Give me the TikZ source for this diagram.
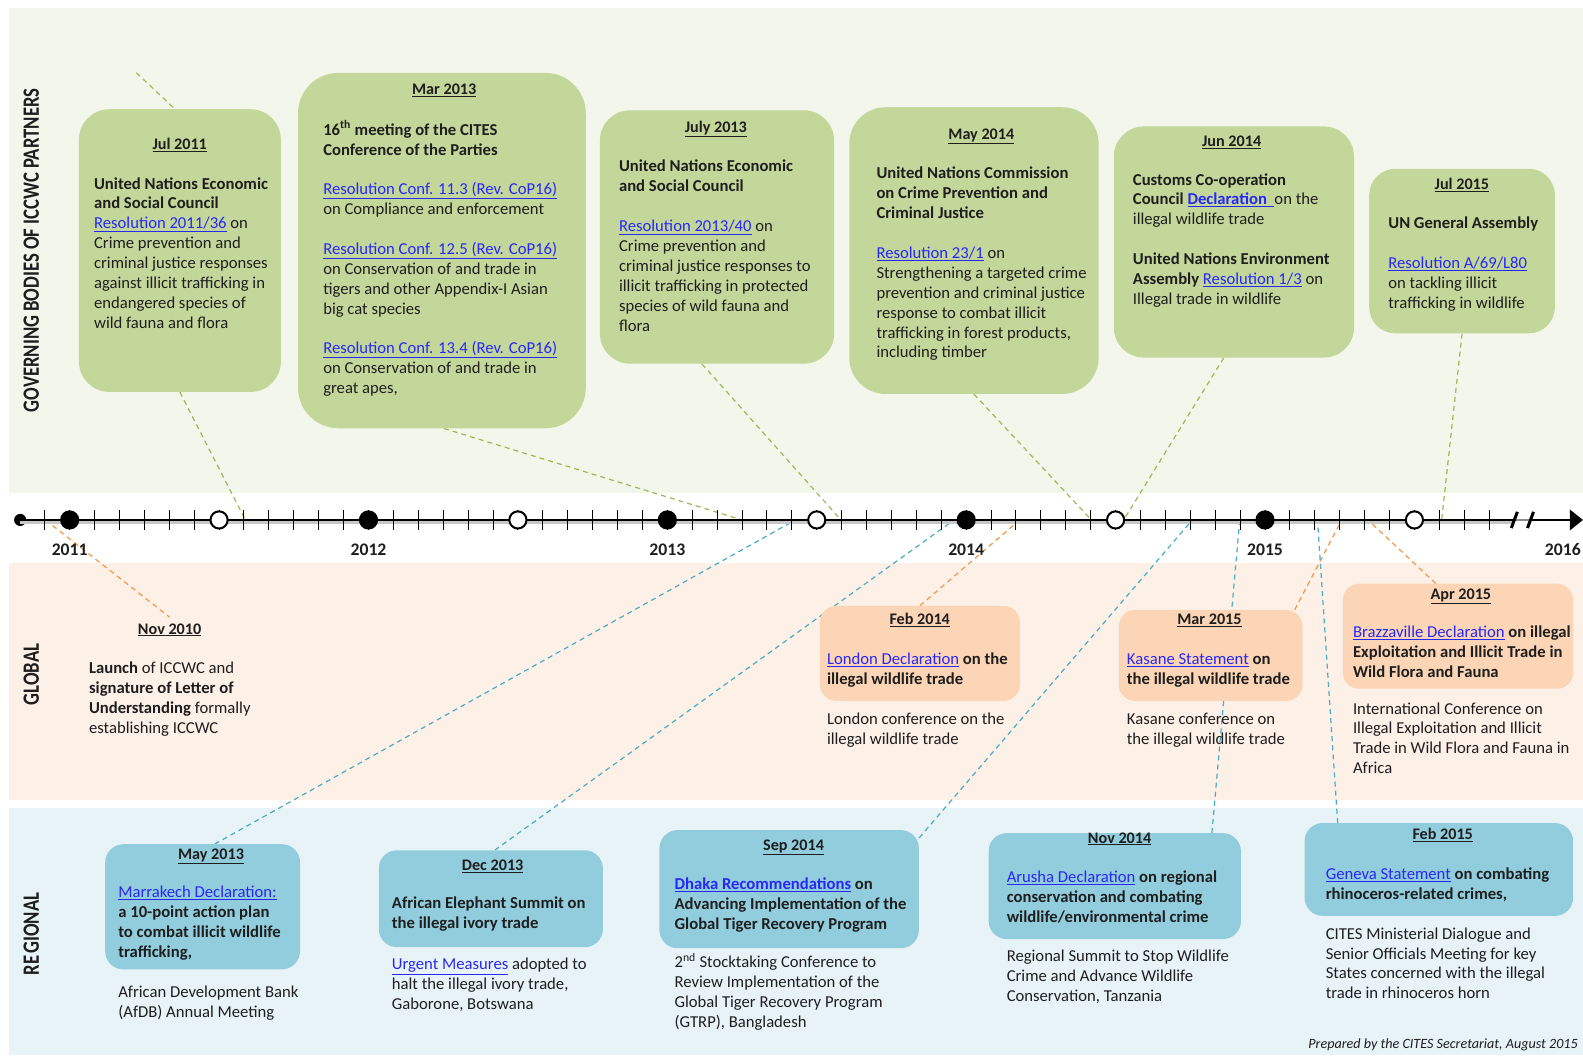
\documentclass[tikz,border=0pt]{standalone}
\usepackage{fontspec}
\usepackage{graphicx}
\setmainfont{Carlito}
\usetikzlibrary{arrows.meta}
\definecolor{bandG}{RGB}{242,246,235}
\definecolor{bandO}{RGB}{253,240,231}
\definecolor{bandB}{RGB}{232,243,248}
\definecolor{boxG}{RGB}{196,215,155}
\definecolor{boxO}{RGB}{251,213,181}
\definecolor{boxB}{RGB}{146,205,221}
\definecolor{conG}{RGB}{155,187,89}
\definecolor{conO}{RGB}{247,150,70}
\definecolor{conB}{RGB}{75,172,198}
\definecolor{linkblue}{RGB}{40,40,245}
\definecolor{ink}{RGB}{30,30,30}
\newcommand{\lnk}[1]{\textcolor{linkblue}{\underline{#1}}}
\pgfdeclarelayer{back}
\pgfdeclarelayer{conn}
\pgfsetlayers{back,conn,main}
\tikzset{
  gbox/.style={fill=boxG, rounded corners=30pt, anchor=north west, inner sep=0},
  obox/.style={fill=boxO, rounded corners=16pt, anchor=north west, inner sep=0},
  bbox/.style={fill=boxB, rounded corners=18pt, anchor=north west, inner sep=0},
  ttl/.style={anchor=base, inner sep=0, font=\fontsize{16}{19.7}\selectfont\bfseries, text=ink},
  txt/.style={anchor=north west, inner sep=0, align=left, font=\fontsize{16.5}{19.7}\selectfont, text=ink},
  con/.style={line width=1.2pt, dash pattern=on 5pt off 4pt},
  gcon/.style={con, draw=conG},
  ocon/.style={con, draw=conO},
  bcon/.style={con, draw=conB},
  side/.style={rotate=90, inner sep=0, font=\fontsize{18.5}{20}\selectfont\bfseries, text=ink},
  yeardot/.style={circle, fill=black, inner sep=0, minimum size=19},
  halfdot/.style={circle, fill=white, draw=black, line width=2pt, inner sep=0, minimum size=17},
  yearlbl/.style={anchor=base, inner sep=0, font=\fontsize{17.5}{19}\selectfont\bfseries, text=ink},
  tickmark/.style={line width=1pt, draw=black}
}
\begin{document}
\begin{tikzpicture}[x=1pt,y=-1pt]
\useasboundingbox (0,0) rectangle (1568,1045);
% bands
\begin{pgfonlayer}{back}
  \fill[white] (0,0) rectangle (1568,1045);
  \fill[bandG] (9,8) rectangle (1568,488);
  \fill[bandO] (9,558) rectangle (1568,792);
  \fill[bandB] (9,800) rectangle (1568,1045);
\end{pgfonlayer}

% side labels
\node[side] (lab1) at (31,248) {\scalebox{1}[1.25]{GOVERNING BODIES OF ICCWC PARTNERS}};
\node[side] (lab2) at (31,668) {\scalebox{1}[1.25]{GLOBAL}};
\node[side] (lab3) at (31,925) {\scalebox{1}[1.25]{RE\kern2pt GIONAL}};

% ---------- governing bodies boxes ----------
\node[gbox, minimum width=200, minimum height=280] (b1) at (78,108) {};
\node[gbox, minimum width=285, minimum height=352, rounded corners=40pt] (b2) at (295,72) {};
\node[gbox, minimum width=232, minimum height=251] (b3) at (594,109) {};
\node[gbox, minimum width=247, minimum height=284, rounded corners=36pt] (b4) at (841,106) {};
\node[gbox, minimum width=238, minimum height=229] (b5) at (1103,125) {};
\node[gbox, minimum width=184, minimum height=163, rounded corners=26pt] (b6) at (1356,167) {};

\node[ttl] (t1) at (178,148) {\underline{Jul 2011}};
\node[txt] (x1) at (93,173.3) {\strut\textbf{United Nations Economic}\\
\textbf{and Social Council}\\
\lnk{Resolution 2011/36} on\\
Crime prevention and\\
criminal justice responses\\
against illicit trafficking in\\
endangered species of\\
wild fauna and flora};

\node[ttl] (t2) at (440,94) {\underline{Mar 2013}};
\node[txt] (x2) at (320,119.3) {\strut\textbf{16\textsuperscript{th} meeting of the CITES}\\
\textbf{Conference of the Parties}\\
\mbox{}\\
\lnk{Resolution Conf. 11.3 (Rev. CoP16)}\\
on Compliance and enforcement\\
\mbox{}\\
\lnk{Resolution Conf. 12.5 (Rev. CoP16)}\\
on Conservation of and trade in\\
tigers and other Appendix-I Asian\\
big cat species\\
\mbox{}\\
\lnk{Resolution Conf. 13.4 (Rev. CoP16)}\\
on Conservation of and trade in\\
great apes,};

\node[ttl] (t3) at (709,131) {\underline{July 2013}};
\node[txt] (x3) at (613,156.3) {\strut\textbf{United Nations Economic}\\
\textbf{and Social Council}\\
\mbox{}\\
\lnk{Resolution 2013/40} on\\
Crime prevention and\\
criminal justice responses to\\
illicit trafficking in protected\\
species of wild fauna and\\
flora};

\node[ttl] (t4) at (972,138) {\underline{May 2014}};
\node[txt] (x4) at (868,163.3) {\strut\textbf{United Nations Commission}\\
\textbf{on Crime Prevention and}\\
\textbf{Criminal Justice}\\
\mbox{}\\
\lnk{Resolution 23/1} on\\
Strengthening a targeted crime\\
prevention and criminal justice\\
response to combat illicit\\
trafficking in forest products,\\
including timber};

\node[ttl] (t5) at (1220,145) {\underline{Jun 2014}};
\node[txt] (x5) at (1122,169.3) {\strut\textbf{Customs Co-operation}\\
\textbf{Council} \lnk{\textbf{Declaration}\ \ }on the\\
illegal wildlife trade\\
\mbox{}\\
\textbf{United Nations Environment}\\
\textbf{Assembly} \lnk{Resolution 1/3} on\\
Illegal trade in wildlife};

\node[ttl] (t6) at (1448,188) {\underline{Jul 2015}};
\node[txt] (x6) at (1375,212.3) {\strut\textbf{UN General Assembly}\\
\mbox{}\\
\lnk{Resolution A/69/L80}\\
on tackling illicit\\
trafficking in wildlife};

% ---------- global ----------
\node[ttl] (t7) at (168,628) {\underline{Nov 2010}};
\node[txt] (x7) at (88,653.3) {\strut\textbf{Launch} of ICCWC and\\
\textbf{signature of Letter of}\\
\textbf{Understanding} formally\\
establishing ICCWC};

\node[obox, minimum width=198, minimum height=94] (g1) at (812,600) {};
\node[ttl] (t8) at (911,619) {\underline{Feb 2014}};
\node[txt] (x8) at (819,644.3) {\strut\lnk{London Declaration} \textbf{on the}\\
\textbf{illegal wildlife trade}};
\node[txt] (y8) at (819,703.3) {\strut London conference on the\\
illegal wildlife trade};

\node[obox, minimum width=182, minimum height=90] (g2) at (1108,604) {};
\node[ttl] (t9) at (1198,619) {\underline{Mar 2015}};
\node[txt] (x9) at (1116,644.3) {\strut\lnk{Kasane Statement} \textbf{on}\\
\textbf{the illegal wildlife trade}};
\node[txt] (y9) at (1116,703.3) {\strut Kasane conference on\\
the illegal wildlife trade};

\node[obox, minimum width=228, minimum height=104] (g3) at (1330,578) {};
\node[ttl] (t10) at (1447,594) {\underline{Apr 2015}};
\node[txt] (x10) at (1340,617.3) {\strut\lnk{Brazzaville Declaration} \textbf{on illegal}\\
\textbf{Exploitation and Illicit Trade in}\\
\textbf{Wild Flora and Fauna}};
\node[txt] (y10) at (1340,693.3) {\strut International Conference on\\
Illegal Exploitation and Illicit\\
Trade in Wild Flora and Fauna in\\
Africa};

% ---------- regional ----------
\node[bbox, minimum width=193, minimum height=124] (r1) at (104,836) {};
\node[ttl] (t11) at (209,851) {\underline{May 2013}};
\node[txt] (x11) at (117,875.3) {\strut\lnk{Marrakech Declaration:}\\
\textbf{a 10-point action plan}\\
\textbf{to combat illicit wildlife}\\
\textbf{trafficking,}};
\node[txt] (y11) at (117,974.3) {\strut African Development Bank\\
(AfDB) Annual Meeting};

\node[bbox, minimum width=222, minimum height=96] (r2) at (375,842) {};
\node[ttl] (t12) at (488,862) {\underline{Dec 2013}};
\node[txt] (x12) at (388,886.3) {\strut\textbf{African Elephant Summit on}\\
\textbf{the illegal ivory trade}};
\node[txt] (y12) at (388,946.3) {\strut\lnk{Urgent Measures} adopted to\\
halt the illegal ivory trade,\\
Gaborone, Botswana};

\node[bbox, minimum width=257, minimum height=117] (r3) at (653,822) {};
\node[ttl] (t13) at (786,842) {\underline{Sep 2014}};
\node[txt] (x13) at (668,867.3) {\strut\lnk{\textbf{Dhaka Recommendations}} \textbf{on}\\
\textbf{Advancing Implementation of the}\\
\textbf{Global Tiger Recovery Program}};
\node[txt] (y13) at (668,944.3) {\strut 2\textsuperscript{nd} Stocktaking Conference to\\
Review Implementation of the\\
Global Tiger Recovery Program\\
(GTRP), Bangladesh};

\node[bbox, minimum width=250, minimum height=105] (r4) at (979,825) {};
\node[ttl] (t14) at (1109,835) {\underline{Nov 2014}};
\node[txt] (x14) at (997,860.3) {\strut\lnk{Arusha Declaration} \textbf{on regional}\\
\textbf{conservation and combating}\\
\textbf{wildlife/environmental crime}};
\node[txt] (y14) at (997,938.3) {\strut Regional Summit to Stop Wildlife\\
Crime and Advance Wildlife\\
Conservation, Tanzania};

\node[bbox, minimum width=266, minimum height=92] (r5) at (1292,815) {};
\node[ttl] (t15) at (1429,832) {\underline{Feb 2015}};
\node[txt] (x15) at (1313,857.3) {\strut\lnk{Geneva Statement} \textbf{on combating}\\
\textbf{rhinoceros-related crimes,}};
\node[txt] (y15) at (1313,916.3) {\strut CITES Ministerial Dialogue and\\
Senior Officials Meeting for key\\
States concerned with the illegal\\
trade in rhinoceros horn};

\node[anchor=base east, inner sep=0, font=\fontsize{14}{16}\selectfont\itshape, text=ink] (foot) at (1563,1039) {Prepared by the CITES Secretariat, August 2015};

% ---------- timeline ----------
\node[circle, fill=black, inner sep=0, minimum size=12] (t0) at (20,515) {};
\coordinate (brk1) at (1500,515);
\coordinate (brk2) at (1516,515);
\coordinate (tipA) at (1568,515);
\draw[line width=3.5pt, black!22] (20,517) -- (1500,517);
\draw[line width=2.8pt] (t0.center) -- (brk1);
\draw[line width=2pt, black!45] (brk1) -- (brk2);
\draw[line width=2.8pt, -{Triangle[length=13pt, width=20pt]}] (brk2) -- (tipA);
\draw[line width=3pt] (1497,523) -- (1503,507);
\draw[line width=3pt] (1513,523) -- (1519,507);
\foreach \i in {-1,...,57} {
  \draw[tickmark] ({69+24.667*\i},505) -- ++(0,20);
}
\foreach \k/\yr in {0/2011,1/2012,2/2013,3/2014,4/2015} {
  \node[yeardot] (y\yr) at ({69+296*\k},515) {};
  \node[halfdot] (h\yr) at ({217+296*\k},515) {};
  \node[yearlbl] (l\yr) at ({69+296*\k},550) {\yr};
}
\node[yearlbl, anchor=base east] (l2016) at (1566,550) {2016};

% timeline end points of connectors
\coordinate (sg) at (135,72);
\coordinate (eg1) at (243,515);
\coordinate (eg2) at (735,515);
\coordinate (eg3) at (833,515);
\coordinate (eg4) at (1081,515);
\coordinate (eg5) at (1113,515);
\coordinate (eg6) at (1428,515);
\coordinate (eo1) at (45,515);
\coordinate (eo2) at (1010,515);
\coordinate (eo3) at (1329,515);
\coordinate (eo4) at (1355,515);
\coordinate (eb1) at (788,515);
\coordinate (eb2) at (945,515);
\coordinate (eb3) at (1181,515);
\coordinate (eb4) at (1228,515);
\coordinate (eb5) at (1305,515);

\begin{pgfonlayer}{conn}
  \draw[gcon] (sg) -- ([xshift=-5pt]b1.north);
  \draw[gcon] (b1.south) -- (eg1);
  \draw[gcon] ([xshift=2pt]b2.south) -- (eg2);
  \draw[gcon] ([xshift=-15pt]b3.south) -- (eg3);
  \draw[gcon] (b4.south) -- (eg4);
  \draw[gcon] ([xshift=-10pt]b5.south) -- (eg5);
  \draw[gcon] (b6.south) -- (eg6);
  \draw[ocon] (eo1) -- ([yshift=6pt]t7.north);
  \draw[ocon] (g1.north) -- (eo2);
  \draw[ocon] ([xshift=-8pt]g2.north east) -- (eo3);
  \draw[ocon] ([xshift=-22pt]g3.north) -- (eo4);
  \draw[bcon] ([xshift=12pt]r1.north) -- (eb1);
  \draw[bcon] ([xshift=4pt]r2.north) -- (eb2);
  \draw[bcon] ([yshift=-8pt]r3.north east) -- (eb3);
  \draw[bcon] ([xshift=-29pt]r4.north east) -- (eb4);
  \draw[bcon] ([xshift=33pt]r5.north west) -- (eb5);
\end{pgfonlayer}
\end{tikzpicture}
\end{document}
